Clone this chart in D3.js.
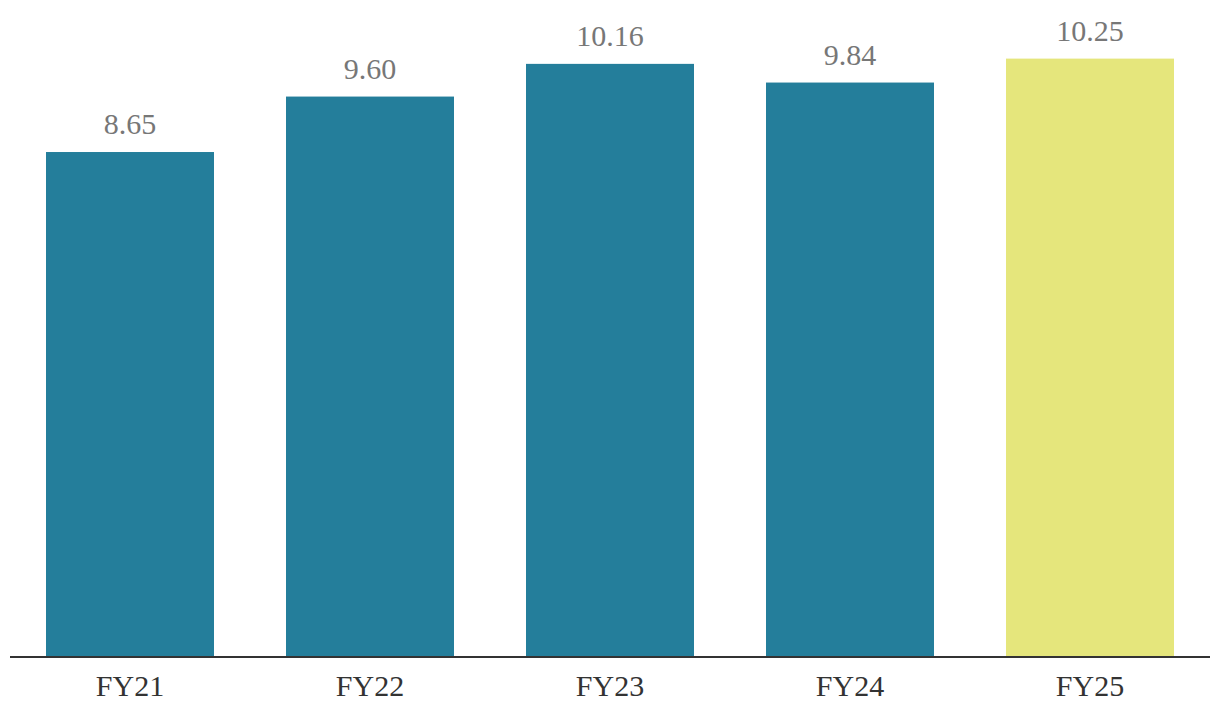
<!DOCTYPE html>
<html><head><meta charset="utf-8">
<script src="https://cdn.jsdelivr.net/npm/d3@7"></script>
<style>html,body{margin:0;padding:0;background:#fff;}</style>
</head><body>
<svg id="chart" width="1220" height="724"></svg>
<script>
const categories = ["FY21", "FY22", "FY23", "FY24", "FY25"];
const values = [8.65, 9.60, 10.16, 9.84, 10.25];
const valueLabels = ["8.65", "9.60", "10.16", "9.84", "10.25"];
const highlight = ["FY25"];

const svg = d3.select("#chart");
const baseY = 657;
const x = d3.scaleBand().domain(categories).range([10, 1210]).paddingInner(0.3).paddingOuter(0.15);
const y = d3.scaleLinear().domain([0, 11.254]).range([baseY, 0]);

const data = categories.map((c, i) => ({c, v: values[i], l: valueLabels[i]}));

svg.selectAll("rect.bar").data(data).join("rect")
  .attr("class", "bar")
  .attr("x", d => x(d.c))
  .attr("width", x.bandwidth())
  .attr("y", d => y(d.v))
  .attr("height", d => baseY - y(d.v))
  .attr("fill", d => highlight.includes(d.c) ? "#e5e67c" : "#247e9b");

svg.selectAll("text.val").data(data).join("text")
  .attr("class", "val")
  .attr("x", d => x(d.c) + x.bandwidth() / 2)
  .attr("y", d => y(d.v) - 18)
  .attr("text-anchor", "middle")
  .attr("font-family", "Liberation Serif, serif")
  .attr("font-size", 30)
  .attr("fill", "#777777")
  .text(d => d.l);

const axis = d3.axisBottom(x).tickSize(0).tickPadding(18);
const g = svg.append("g").attr("transform", `translate(0,${baseY})`).call(axis);
g.select(".domain").attr("stroke", "#333").attr("stroke-width", 2).attr("d", "M10,0H1210");
g.selectAll("text").attr("font-family", "Liberation Serif, serif").attr("font-size", 30).attr("fill", "#333");
</script>
</body></html>
